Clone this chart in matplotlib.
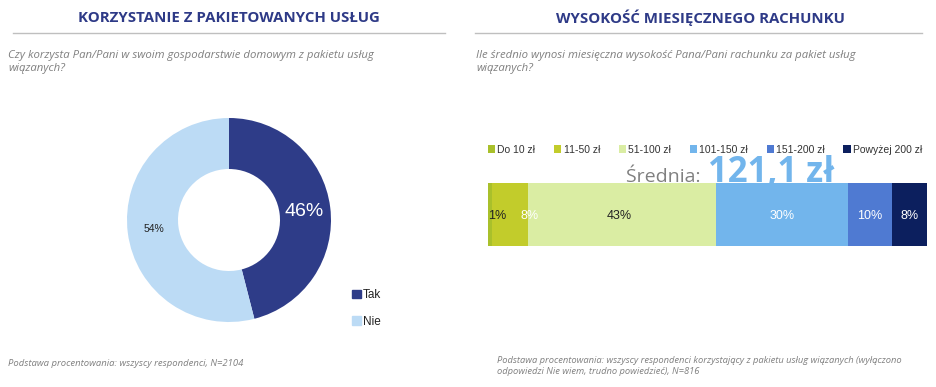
import matplotlib.pyplot as plt
from matplotlib.patches import Patch

W, H = 936, 387

# left chart: donut
donut_labels = ['Tak', 'Nie']
donut_values = [46, 54]
donut_colors = ['#2E3C88', '#BCDBF5']

# right chart: stacked bar
bar_labels = ['Do 10 zł', '11-50 zł', '51-100 zł', '101-150 zł', '151-200 zł', 'Powyżej 200 zł']
bar_values = [1, 8, 43, 30, 10, 8]
bar_colors = ['#A9C02B', '#C2CC2B', '#DAEDA3', '#72B5EC', '#4F7AD2', '#0C1F5E']
bar_text_colors = ['#222222', 'white', '#222222', 'white', 'white', 'white']
mean_value = '121,1 zł'

plt.rcParams['font.family'] = ['Liberation Sans', 'DejaVu Sans']

fig = plt.figure(figsize=(W / 100, H / 100), dpi=100)


def fx(px):
    return px / W


def fy(py):
    return 1 - py / H


title_col = '#2E3A87'
gray = '#808080'

# titles and rules
fig.text(fx(229), fy(18), 'KORZYSTANIE Z PAKIETOWANYCH USŁUG', ha='center', va='center',
         fontsize=10.8, fontweight='bold', color=title_col, family='Open Sans')
fig.text(fx(700), fy(18), 'WYSOKOŚĆ MIESIĘCZNEGO RACHUNKU', ha='center', va='center',
         fontsize=10.8, fontweight='bold', color=title_col, family='Open Sans')
fig.add_artist(plt.Line2D([fx(13), fx(445)], [fy(33), fy(33)], color='#BFBFBF', lw=1))
fig.add_artist(plt.Line2D([fx(475), fx(922)], [fy(33), fy(33)], color='#BFBFBF', lw=1))

# questions
fig.text(fx(8), fy(50), 'Czy korzysta Pan/Pani w swoim gospodarstwie domowym z pakietu usług\nwiązanych?',
         ha='left', va='top', fontsize=8.2, style='italic', color=gray, family='Open Sans',
         linespacing=1.3)
fig.text(fx(476), fy(50), 'Ile średnio wynosi miesięczna wysokość Pana/Pani rachunku za pakiet usług\nwiązanych?',
         ha='left', va='top', fontsize=8.2, style='italic', color=gray, family='Open Sans',
         linespacing=1.3)

# footnotes
fig.text(fx(8), fy(363), 'Podstawa procentowania: wszyscy respondenci, N=2104',
         ha='left', va='center', fontsize=6.8, style='italic', color=gray, family='Open Sans')
fig.text(fx(497), fy(356), 'Podstawa procentowania: wszyscy respondenci korzystający z pakietu usług wiązanych (wyłączono\n'
         'odpowiedzi Nie wiem, trudno powiedzieć), N=816',
         ha='left', va='top', fontsize=6.75, style='italic', color=gray, family='Open Sans',
         linespacing=1.35)

# donut
ax1 = fig.add_axes([fx(127), fy(322), 204 / W, 204 / H])
wedges, _ = ax1.pie(donut_values, colors=donut_colors, startangle=90, counterclock=False,
                    radius=1, wedgeprops=dict(width=0.5, edgecolor='none'))
ax1.set_xlim(-1, 1)
ax1.set_ylim(-1, 1)
ax1.set_aspect('equal')
ax1.axis('off')
ax1.text(0.74, 0.08, f'{donut_values[0]}%', ha='center', va='center', fontsize=14, color='white')
ax1.text(-0.74, -0.09, f'{donut_values[1]}%', ha='center', va='center', fontsize=7.5, color='#222222')
fig.legend(handles=[Patch(color=c, label=l) for c, l in zip(donut_colors, donut_labels)],
           loc='upper left', bbox_to_anchor=(fx(352), fy(289)), frameon=False, fontsize=8.5,
           handlelength=0.75, handleheight=0.75, handletextpad=0.15, labelspacing=1.25,
           borderpad=0, borderaxespad=0, labelcolor='#222222')

# stacked bar
ax2 = fig.add_axes([fx(488), fy(246), 439 / W, 63 / H])
left = 0
for v, c, lab in zip(bar_values, bar_colors, bar_labels):
    ax2.barh(0, v, left=left, color=c, height=1, label=lab, edgecolor='none')
    left += v
ax2.set_xlim(0, 100)
ax2.set_ylim(-0.5, 0.5)
ax2.axis('off')
label_x = [2.2, 9.5, 30, 67, 87, 96]
for x, v, tc in zip(label_x, bar_values, bar_text_colors):
    ax2.text(x, -0.03, f'{v}%', ha='center', va='center', fontsize=9, color=tc)

ax2.legend(loc='lower left', bbox_to_anchor=(0, 1.45), ncol=6, frameon=False, fontsize=7.5,
           handlelength=0.7, handleheight=0.7, handletextpad=0.2, columnspacing=1.8,
           borderpad=0, borderaxespad=0, labelcolor='#333333')

fig.text(fx(706), fy(182), 'Średnia: ', ha='right', va='baseline', fontsize=14,
         color=gray, family='Open Sans')
fig.text(fx(708), fy(182), mean_value, ha='left', va='baseline', fontsize=25,
         fontweight='bold', color='#72B5EC', family='Open Sans')

fig.savefig('out.png', dpi=100)
